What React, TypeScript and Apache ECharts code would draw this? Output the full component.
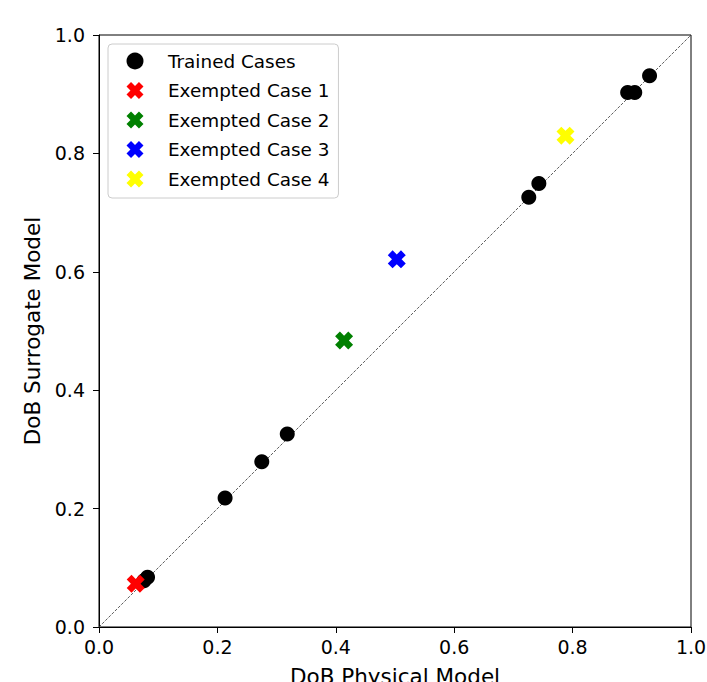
import React, { useEffect, useRef } from "react";
import * as echarts from "echarts";

const trainedCases: number[][] = [
  [0.076, 0.078],
  [0.082, 0.084],
  [0.213, 0.218],
  [0.275, 0.279],
  [0.318, 0.326],
  [0.726, 0.726],
  [0.743, 0.749],
  [0.893, 0.903],
  [0.905, 0.903],
  [0.93, 0.931],
];
const exemptedNames = ["Exempted Case 1", "Exempted Case 2", "Exempted Case 3", "Exempted Case 4"];
const exemptedValues: number[][] = [
  [0.062, 0.073],
  [0.414, 0.484],
  [0.503, 0.621],
  [0.788, 0.83],
];
const exemptedColors = ["#ff0000", "#008000", "#0000ff", "#ffff00"];
const diagonal: number[][] = [
  [0, 0],
  [1, 1],
];

const X_PATH = "path://M3.2,0 L6,2.8 L8.8,0 L12,3.2 L9.2,6 L12,8.8 L8.8,12 L6,9.2 L3.2,12 L0,8.8 L2.8,6 L0,3.2 Z";
const FONT = "DejaVu Sans";

export default function App() {
  const ref = useRef<HTMLDivElement>(null);
  useEffect(() => {
    document.body.style.margin = "0";
    if (!ref.current) return;
    const chart = echarts.init(ref.current, null, { renderer: "svg" });
    const axisCommon = {
      type: "value" as const,
      min: 0,
      max: 1,
      interval: 0.2,
      nameLocation: "middle" as const,
      nameTextStyle: { fontSize: 21.5, color: "#000", fontFamily: FONT },
      axisLine: { show: true, lineStyle: { color: "#000", width: 1 } },
      axisTick: { show: true, inside: false, length: 6, lineStyle: { color: "#000", width: 1 } },
      axisLabel: {
        fontSize: 19,
        color: "#000",
        fontFamily: FONT,
        formatter: (v: number) => v.toFixed(1),
      },
      splitLine: { show: false },
    };
    chart.setOption({
      animation: false,
      backgroundColor: "#fff",
      textStyle: { fontFamily: FONT },
      grid: {
        left: 99,
        top: 35,
        width: 592,
        height: 592,
        outerBoundsMode: "none",
        containLabel: false,
        show: true,
        borderColor: "#000",
        borderWidth: 1,
        backgroundColor: "transparent",
      },
      xAxis: {
        ...axisCommon,
        name: "DoB Physical Model",
        nameGap: 38,
        axisLabel: { ...axisCommon.axisLabel, margin: 10 },
      },
      yAxis: {
        ...axisCommon,
        name: "DoB Surrogate Model",
        nameGap: 56,
        axisLabel: { ...axisCommon.axisLabel, margin: 14 },
      },
      legend: {
        orient: "vertical",
        left: 108,
        top: 44,
        padding: [8, 9, 10, 18.5],
        itemWidth: 17,
        itemHeight: 17,
        itemGap: 11.5,
        borderColor: "#cccccc",
        borderWidth: 1,
        borderRadius: 4,
        backgroundColor: "rgba(255,255,255,0.8)",
        textStyle: { fontSize: 18.4, color: "#000", fontFamily: FONT, padding: [0, 0, 0, 19.5] },
        data: ["Trained Cases", ...exemptedNames],
      },
      series: [
        {
          type: "line",
          data: diagonal,
          showSymbol: false,
          symbol: "none",
          silent: true,
          z: 1,
          lineStyle: { color: "#333", width: 0.8, type: [3, 1.5] },
        },
        {
          name: "Trained Cases",
          type: "scatter",
          data: trainedCases,
          symbol: "circle",
          symbolSize: 15,
          z: 2,
          itemStyle: { color: "#000", opacity: 1 },
        },
        ...exemptedNames.map((name, i) => ({
          name,
          type: "scatter",
          data: [exemptedValues[i]],
          symbol: X_PATH,
          symbolSize: 18,
          z: 3,
          itemStyle: { color: exemptedColors[i], opacity: 1 },
        })),
      ],
    });
    return () => chart.dispose();
  }, []);
  return <div ref={ref} style={{ width: 707, height: 682 }} />;
}
